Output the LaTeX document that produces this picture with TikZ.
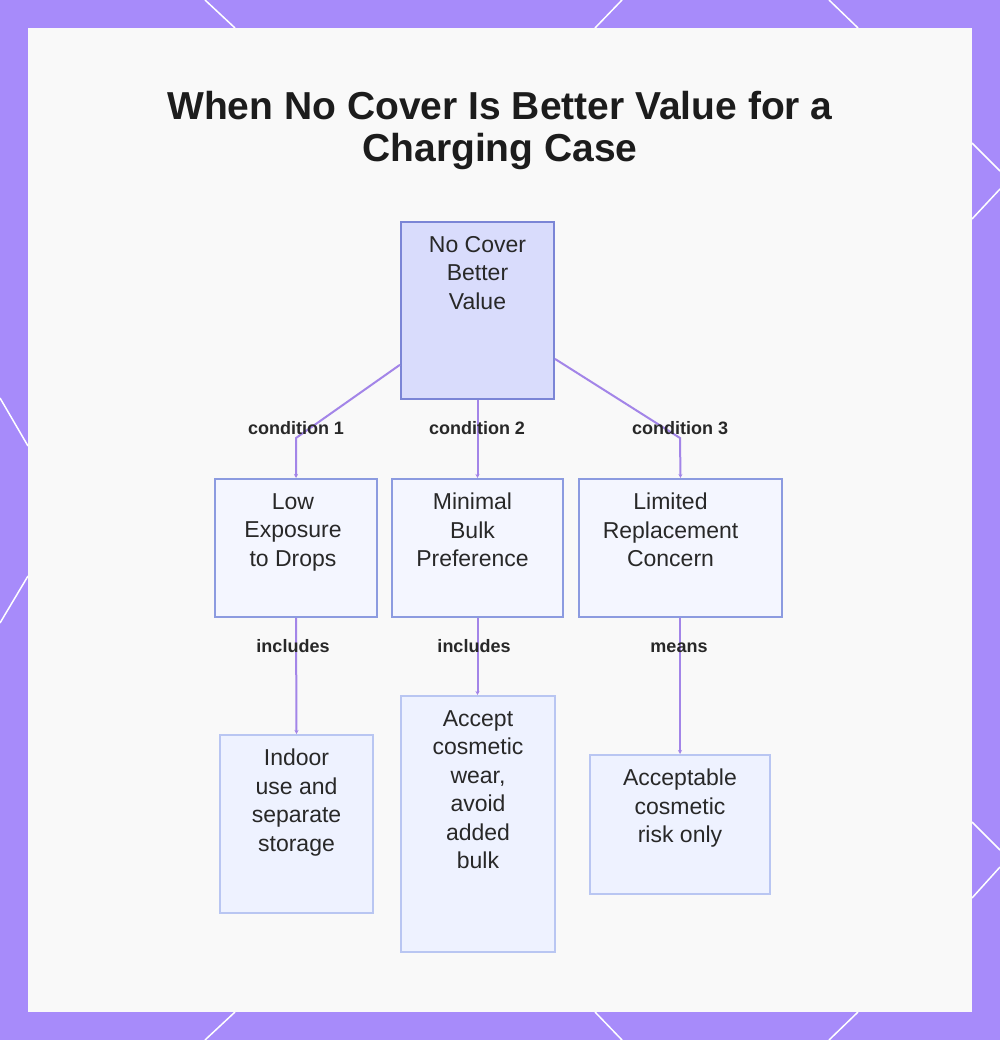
\documentclass[tikz,border=0pt]{standalone}
\usepackage{fontspec}
\setmainfont{Liberation Sans}
\usetikzlibrary{arrows.meta}

\definecolor{framebg}{RGB}{167,139,250}
\definecolor{panelbg}{RGB}{249,249,249}
\definecolor{linkcol}{RGB}{163,133,232}
\definecolor{topfill}{RGB}{217,220,252}
\definecolor{topedge}{RGB}{123,133,214}
\definecolor{condfill}{RGB}{244,246,255}
\definecolor{condedge}{RGB}{140,155,224}
\definecolor{leaffill}{RGB}{238,242,255}
\definecolor{leafedge}{RGB}{185,198,242}
\definecolor{ink}{RGB}{40,40,40}

\begin{document}
\begin{tikzpicture}[x=1pt,y=-1pt,
    topbox/.style={draw=topedge, fill=topfill, line width=2pt, inner sep=0pt},
    condbox/.style={draw=condedge, fill=condfill, line width=2pt, inner sep=0pt},
    leafbox/.style={draw=leafedge, fill=leaffill, line width=2pt, inner sep=0pt},
    boxtext/.style={anchor=north, align=center, inner sep=0pt, text=ink,
        font=\fontsize{23}{28.5}\selectfont},
    elabel/.style={anchor=base, font=\bfseries\fontsize{18}{20}\selectfont, text=ink, inner sep=0pt},
    link/.style={draw=linkcol, line width=2pt, -{Stealth[length=4pt,width=4pt]}}]

\useasboundingbox (0,0) rectangle (1000,1040);

% Frame and panel
\fill[framebg] (0,0) rectangle (1000,1040);
\foreach \xa/\ya/\xb/\yb in {205/0/235/28, 622/0/595/28, 829/0/858/28,
    235/1012/205/1040, 595/1012/622/1040, 858/1012/829/1040,
    0/398/28/446, 28/576/0/623,
    972/143/1000/171, 972/219/1000/189, 972/822/1000/850, 972/898/1000/867}
  \draw[white, line width=1.5pt] (\xa,\ya) -- (\xb,\yb);
\fill[panelbg] (28,28) rectangle (972,1012);

% Title
\node[font=\bfseries\fontsize{39}{42}\selectfont, text=ink!70!black, align=center,
    anchor=north, inner sep=0pt] (title) at (500,91)
    {When No Cover Is Better Value for a\\Charging Case};

% Root box
\node[topbox, minimum width=153pt, minimum height=177pt] (root) at (477.5,310.5) {};
\node[boxtext] (root-t) at ([yshift=-15pt]root.north) {No Cover\\Better\\Value};

% Conditions
\node[condbox, minimum width=162pt, minimum height=138pt] (low) at (296,548) {};
\node[boxtext] (low-t) at ([xshift=-3pt,yshift=-15pt]low.north) {Low\\Exposure\\to Drops};
\node[condbox, minimum width=171pt, minimum height=138pt] (bulk) at (477.5,548) {};
\node[boxtext] (bulk-t) at ([xshift=-5pt,yshift=-15pt]bulk.north) {Minimal\\Bulk\\Preference};
\node[condbox, minimum width=203pt, minimum height=138pt] (repl) at (680.5,548) {};
\node[boxtext] (repl-t) at ([xshift=-10pt,yshift=-15pt]repl.north) {Limited\\Replacement\\Concern};

% Leaves
\node[leafbox, minimum width=153pt, minimum height=178pt] (indoor) at (296.5,824) {};
\node[boxtext] (indoor-t) at ([yshift=-15pt]indoor.north) {Indoor\\use and\\separate\\storage};
\node[leafbox, minimum width=154pt, minimum height=256pt] (wear) at (478,824) {};
\node[boxtext] (wear-t) at ([yshift=-15pt]wear.north) {Accept\\cosmetic\\wear,\\avoid\\added\\bulk};
\node[leafbox, minimum width=180pt, minimum height=139pt] (risk) at (680,824.5) {};
\node[boxtext] (risk-t) at ([yshift=-15pt]risk.north) {Acceptable\\cosmetic\\risk only};

% Connectors
\coordinate (bend1) at (296,438);
\coordinate (bend3) at (680,438);
\draw[link] (root.215) -- (bend1) -- (low.north);
\draw[link] (root.south) -- (bulk.north);
\draw[link] (root.-32) -- (bend3) -- (repl.north);
\draw[link] (low.south) -- (indoor.north);
\draw[link] (bulk.south) -- (bulk.south |- wear.north);
\draw[link] (repl.south -| risk.north) -- (risk.north);

% Edge labels
\node[elabel] (lab1) at (296,434) {condition 1};
\node[elabel] (lab2) at (477,434) {condition 2};
\node[elabel] (lab3) at (680,434) {condition 3};
\node[elabel] (lab4) at (293,652) {includes};
\node[elabel] (lab5) at (474,652) {includes};
\node[elabel] (lab6) at (679,652) {means};

\end{tikzpicture}
\end{document}
